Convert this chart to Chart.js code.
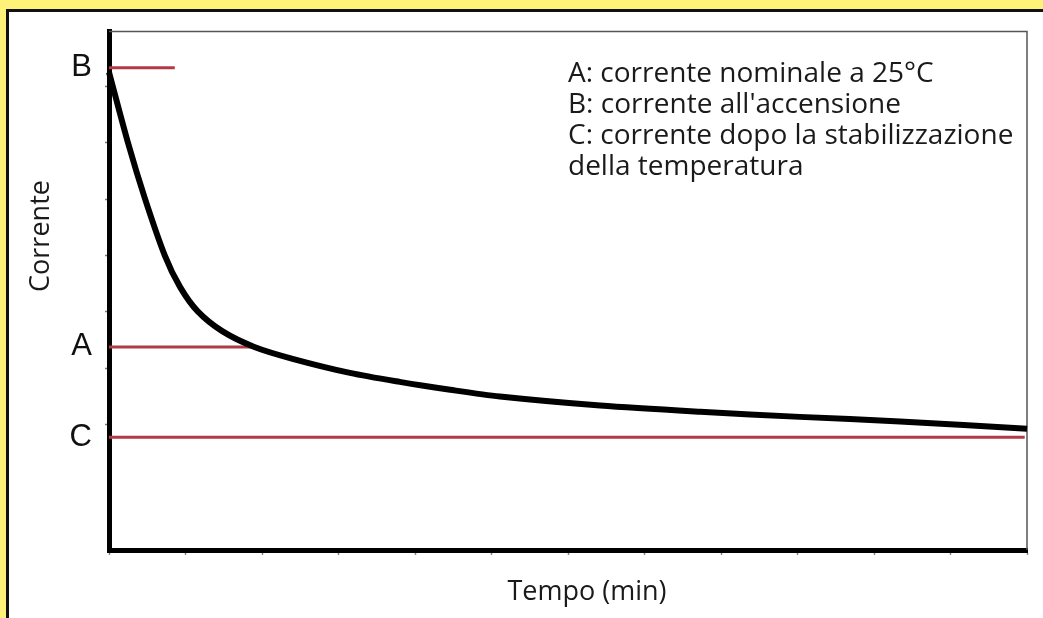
<!DOCTYPE html>
<html>
<head>
<meta charset="utf-8">
<script src="https://cdn.jsdelivr.net/npm/chart.js@4.4.1/dist/chart.umd.min.js"></script>
<style>
  html, body { margin: 0; padding: 0; }
  body { width: 1043px; height: 618px; background: #FFF278; position: relative; overflow: hidden; }
  #riquadro { position: absolute; left: 6px; top: 9px; width: 1100px; height: 700px; background: #fff; border-left: 3px solid #111; border-top: 3px solid #111; }
  #wrap { position: absolute; left: 0; top: 0; width: 1043px; height: 618px; }
</style>
</head>
<body>
<div id="riquadro"></div>
<div id="wrap"><canvas id="grafico" width="1043" height="618"></canvas></div>
<script>
// curva della corrente (tempo in unità della griglia, corrente in unità arbitrarie)
const tempo    = [0, 0.25, 0.47, 0.73, 0.93, 1.16, 1.48, 1.90, 2.40, 3.15, 3.80, 4.46, 5.11, 6.42, 7.73, 9.03, 10.34, 12];
const corrente = [8.25, 6.99, 6.01, 5.00, 4.44, 4.01, 3.66, 3.38, 3.17, 2.92, 2.76, 2.62, 2.50, 2.34, 2.23, 2.14, 2.06, 1.93];

// livelli di riferimento A, B, C
const livelliNomi   = ["B", "A", "C"];
const livelliValori = [8.33, 3.38, 1.78];
const livelliFine   = [0.86, 1.91, 11.97];

// tacche sugli assi
const tacceY = [2, 3, 4, 5, 6, 7, 8];
const tacceX = [0, 1, 2, 3, 4, 5, 6, 7, 8, 9, 10, 11, 12];

const legenda = [
  "A: corrente nominale a 25°C",
  "B: corrente all'accensione",
  "C: corrente dopo la stabilizzazione",
  "della temperatura"
];
const titoloX = "Tempo (min)";
const titoloY = "Corrente";

const rosso = "#B03A45";
const fontTesto = "'Open Sans', sans-serif";

const datasets = [{
  data: tempo.map((t, i) => ({x: t, y: corrente[i]})),
  borderColor: "#000",
  borderWidth: 6,
  pointRadius: 0,
  tension: 0.3,
  clip: false
}];
livelliValori.forEach((v, i) => {
  datasets.push({
    data: [{x: 0, y: v}, {x: livelliFine[i], y: v}],
    borderColor: rosso,
    borderWidth: 3,
    pointRadius: 0
  });
});

// cornice sottile in alto e a destra, testi liberi
const testiPlugin = {
  id: "testi",
  beforeDatasetsDraw(chart) {
    const {ctx, chartArea: a} = chart;
    ctx.save();
    ctx.strokeStyle = "#555";
    ctx.lineWidth = 1.5;
    ctx.beginPath();
    ctx.moveTo(a.left, a.top);
    ctx.lineTo(a.right, a.top);
    ctx.lineTo(a.right, a.bottom);
    ctx.stroke();
    ctx.restore();
  },
  afterDraw(chart) {
    const {ctx} = chart;
    ctx.save();
    ctx.fillStyle = "#1a1a1a";
    ctx.font = "28px " + fontTesto;
    ctx.textAlign = "left";
    ctx.textBaseline = "alphabetic";
    legenda.forEach((riga, i) => ctx.fillText(riga, 568, 82 + i * 31));

    ctx.textAlign = "center";
    ctx.font = "27px " + fontTesto;
    ctx.fillText(titoloX, 587, 600);

    ctx.translate(41, 236);
    ctx.rotate(-Math.PI / 2);
    ctx.textBaseline = "middle";
    ctx.fillText(titoloY, 0, 0);
    ctx.restore();
  }
};

function nomeLivello(v) {
  const i = livelliValori.indexOf(v);
  return i >= 0 ? livelliNomi[i] : "";
}

new Chart(document.getElementById("grafico"), {
  type: "line",
  data: { datasets },
  plugins: [testiPlugin],
  options: {
    responsive: false,
    animation: false,
    layout: { padding: { left: 0, right: 16, top: 29, bottom: 0 } },
    plugins: { legend: { display: false }, tooltip: { enabled: false } },
    scales: {
      x: {
        type: "linear",
        min: 0,
        max: 12,
        afterBuildTicks: s => { s.ticks = tacceX.map(v => ({value: v})); },
        afterFit: s => { s.height = 68; },
        ticks: { display: false },
        grid: { drawOnChartArea: false, drawTicks: true, tickLength: 5, tickColor: "#888", tickWidth: 1.5 },
        border: { color: "#000", width: 5 }
      },
      y: {
        type: "linear",
        min: -0.22,
        max: 8.97,
        afterBuildTicks: s => {
          s.ticks = tacceY.concat(livelliValori).map(v => ({value: v}));
        },
        afterFit: s => { s.width = 109; },
        ticks: {
          padding: 13,
          color: "#111",
          font: { family: "'Liberation Sans', Arial, sans-serif", size: 31 },
          callback: v => nomeLivello(v)
        },
        grid: {
          drawOnChartArea: false,
          drawTicks: true,
          tickLength: 4,
          tickWidth: 1.5,
          tickColor: c => (c.tick && livelliValori.includes(c.tick.value)) ? "rgba(0,0,0,0)" : "#777"
        },
        border: { color: "#000", width: 5 }
      }
    }
  }
});
</script>
</body>
</html>
